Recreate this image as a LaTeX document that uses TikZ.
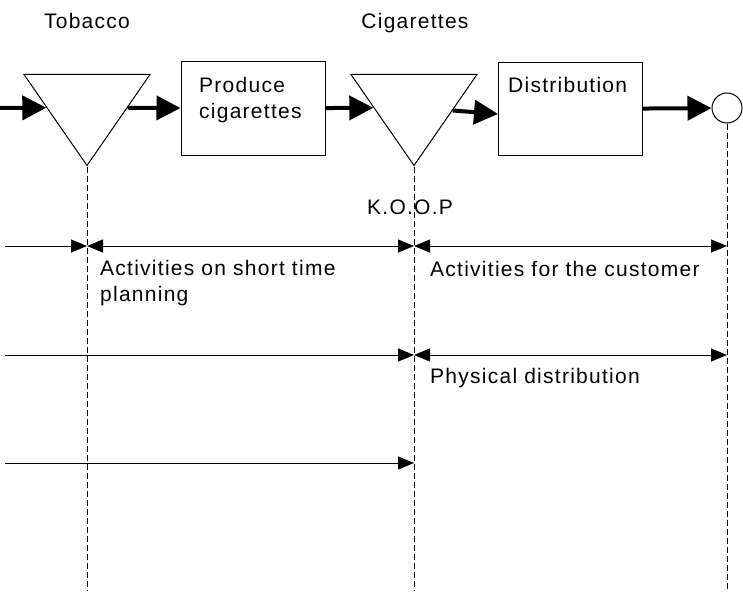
\documentclass[tikz,border=0pt]{standalone}
\usepackage{fontspec}
\setmainfont{Liberation Sans}[LetterSpace=6]
\usetikzlibrary{arrows.meta,shapes.geometric}

\begin{document}
\begin{tikzpicture}[x=1pt,y=-1pt,
  txt/.style={font=\fontsize{21}{26.5}\selectfont, inner sep=0pt, align=left},
  flowline/.style={line width=4pt, -{Triangle[length=24pt,width=24pt]}},
  spanone/.style={line width=1pt, -{Triangle[length=16pt,width=13pt]}},
  spanboth/.style={line width=1pt, {Triangle[length=16pt,width=13pt]}-{Triangle[length=16pt,width=13pt]}},
  guide/.style={line width=0.9pt, dash pattern=on 6pt off 3pt},
  procbox/.style={draw, line width=1pt, minimum width=144pt, minimum height=93pt, inner sep=0pt},
  stock/.style={draw, line width=1pt, isosceles triangle, isosceles triangle stretches,
    shape border rotate=270, minimum width=126pt, minimum height=91pt, inner sep=0pt},
  endpt/.style={draw, line width=1pt, circle, minimum size=30pt, inner sep=0pt}
]
\useasboundingbox (0,0) rectangle (743,591);

% flow symbols
\node[stock] (tob) at (87,107.5) {};
\node[procbox] (prod) at (253,108.5) {};
\node[stock] (cig) at (414,107.5) {};
\node[procbox] (dist) at (570.5,109) {};
\node[endpt] (cust) at (727,108) {};

% labels of the flow
\node[txt, anchor=north] at (87,13) {Tobacco};
\node[txt, anchor=north] at (415,13) {Cigarettes};
\node[txt, anchor=north west] at (199,77) {Produce\\cigarettes};
\node[txt, anchor=north west] at (508,77) {Distribution};
\node[txt, anchor=north west] at (367,200) {K.O.O.P};

% material flow
\coordinate (src) at (0,108);
\draw[flowline] (src) -- (tob);
\draw[flowline] (tob) -- (prod);
\draw[flowline] (prod) -- (cig);
\draw[flowline] (cig) -- ([yshift=-5pt]dist.west);
\draw[flowline] (dist) -- (cust);

% decoupling guides
\draw[guide] (tob.apex) -- (tob.apex |- 0,591);
\draw[guide] (cig.apex) -- (cig.apex |- 0,591);
\draw[guide] (cust.south) -- (cust.south |- 0,591);

% time spans
\coordinate (r1) at (5,246);
\coordinate (r2) at (5,355);
\coordinate (r3) at (5,463);
\draw[spanone] (r1) -- (tob.apex |- r1);
\draw[spanboth] (tob.apex |- r1) -- (cig.apex |- r1);
\draw[spanboth] (cig.apex |- r1) -- (cust.south |- r1);
\draw[spanone] (r2) -- (cig.apex |- r2);
\draw[spanboth] (cig.apex |- r2) -- (cust.south |- r2);
\draw[spanone] (r3) -- (cig.apex |- r3);

\node[txt, anchor=north west] at (100,260) {Activities on short time\\planning};
\node[txt, anchor=north west] at (430,261) {Activities for the customer};
\node[txt, anchor=north west] at (430,368) {Physical distribution};
\end{tikzpicture}
\end{document}
